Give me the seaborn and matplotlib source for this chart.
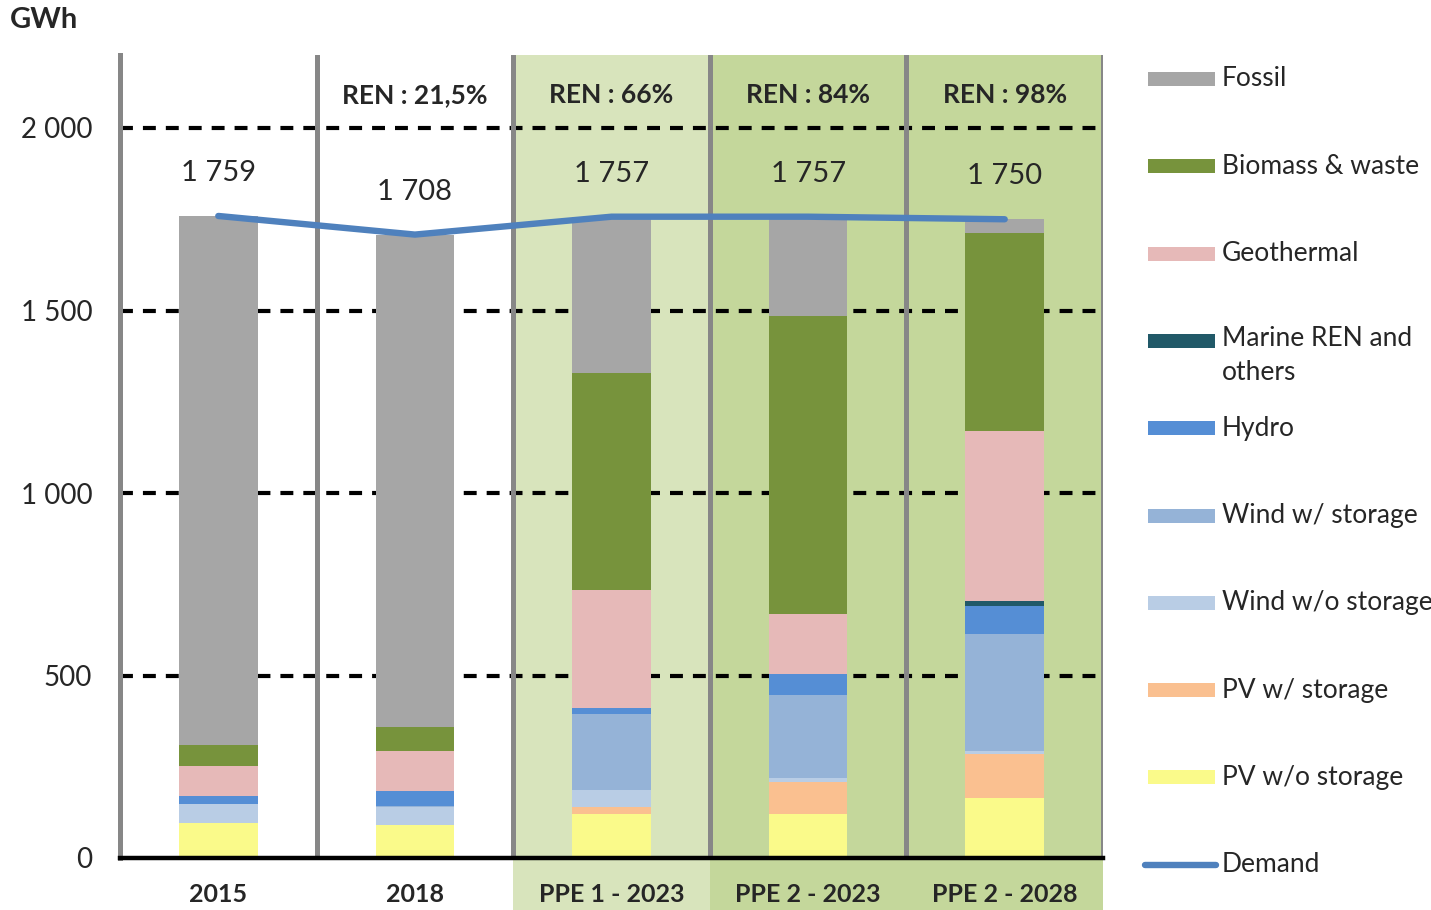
import numpy as np
import matplotlib
matplotlib.use("Agg")
import matplotlib.pyplot as plt
import seaborn as sns
from matplotlib.patches import Rectangle
from matplotlib.lines import Line2D
import matplotlib.transforms as mtransforms

# data (GWh)
categories = ["2015", "2018", "PPE 1 - 2023", "PPE 2 - 2023", "PPE 2 - 2028"]
pv_wo = [96, 90, 121, 121, 164]
pv_w = [0, 0, 19, 87, 121]
wind_wo = [52, 50, 46, 11, 8]
wind_w = [0, 3, 209, 228, 321]
hydro = [22, 41, 16, 57, 76]
marine = [0, 0, 0, 0, 14]
geothermal = [82, 109, 323, 164, 466]
biomass = [58, 66, 595, 817, 542]
fossil = [1449, 1349, 428, 272, 38]
demand = [1759, 1708, 1757, 1757, 1750]
total_labels = ["1 759", "1 708", "1 757", "1 757", "1 750"]
ren_labels = ["", "REN : 21,5%", "REN : 66%", "REN : 84%", "REN : 98%"]

series_names = ["PV w/o storage", "PV w/ storage", "Wind w/o storage", "Wind w/ storage",
                "Hydro", "Marine REN and\nothers", "Geothermal", "Biomass & waste", "Fossil"]
series_vals = [pv_wo, pv_w, wind_wo, wind_w, hydro, marine, geothermal, biomass, fossil]
series_colors = ["#FAFA8A", "#FAC090", "#B9CDE5", "#95B3D7", "#558ED5", "#215968",
                 "#E6B9B8", "#77933C", "#A6A6A6"]

sns.set_style("white")
plt.rcParams["font.family"] = ["Lato", "DejaVu Sans"]

fig = plt.figure(figsize=(14.31, 9.10), dpi=100)
ax = fig.add_axes([120 / 1431, 1 - 858 / 910, 983 / 1431, 803 / 910])

pos = np.arange(len(categories))

# background bands for the PPE scenarios (also below the axis)
band_tr = mtransforms.blended_transform_factory(ax.transData, ax.transAxes)
for lo, hi, col in [(1.5, 2.5, "#D8E4BC"), (2.5, 4.5, "#C4D79B")]:
    ax.add_patch(Rectangle((lo, -0.066), hi - lo, 1.066, transform=band_tr,
                           facecolor=col, edgecolor="none", zorder=0, clip_on=False))

# stacked bars: draw cumulative totals from the top down
cum = np.cumsum(np.array(series_vals), axis=0)
for k in range(len(series_vals) - 1, -1, -1):
    sns.barplot(x=pos, y=cum[k], color=series_colors[k], width=0.4, saturation=1,
                edgecolor="none", linewidth=0, ax=ax, zorder=2, native_scale=True)

# demand line
sns.lineplot(x=pos, y=demand, color="#4F81BD", linewidth=4.6, ax=ax, zorder=4,
             solid_capstyle="round")

ax.set_xlim(-0.5, 4.5)
ax.set_ylim(0, 2200)

# dashed grid
for v in [500, 1000, 1500, 2000]:
    ax.axhline(v, color="black", linewidth=3.0, linestyle=(0, (3.1, 2.4)), zorder=1)

# column separators
for xs in [0.5, 1.5, 2.5, 3.5, 4.5]:
    ax.axvline(xs, color="#878787", linewidth=3.6, zorder=3)

for s in ["top", "right"]:
    ax.spines[s].set_visible(False)
ax.spines["left"].set_color("#878787")
ax.spines["left"].set_linewidth(3.6)
ax.spines["bottom"].set_color("black")
ax.spines["bottom"].set_linewidth(3.2)
ax.spines["bottom"].set_zorder(5)

ax.set_yticks([0, 500, 1000, 1500, 2000])
ax.set_yticklabels(["0", "500", "1 000", "1 500", "2 000"], fontsize=20)
ax.set_xticks(pos)
ax.set_xticklabels(categories, fontsize=18, fontweight="bold")
ax.tick_params(axis="y", length=0, pad=20)
ax.tick_params(axis="x", length=0, pad=18)
ax.set_xlabel("")
ax.set_ylabel("")

# totals and REN shares
for i in pos:
    ax.text(i, demand[i] + 118, total_labels[i], ha="center", va="center", fontsize=21)
    if ren_labels[i]:
        ax.text(i, 2090, ren_labels[i], ha="center", va="center", fontsize=19,
                fontweight="bold")

fig.text(10 / 1431, 1 - 20 / 910, "GWh", ha="left", va="center", fontsize=21,
         fontweight="bold")

# legend, laid out like the original
legend_order = list(range(len(series_names) - 1, -1, -1))
for j, k in enumerate(legend_order):
    yc = 79 + 87.3 * j
    fig.add_artist(Rectangle((1148 / 1431, 1 - (yc + 7) / 910), 67 / 1431, 14 / 910,
                             transform=fig.transFigure, facecolor=series_colors[k],
                             edgecolor="none"))
    if "\n" in series_names[k]:
        fig.text(1222 / 1431, 1 - (yc - 15) / 910, series_names[k], ha="left", va="top",
                 fontsize=19, linespacing=1.45)
    else:
        fig.text(1222 / 1431, 1 - yc / 910, series_names[k], ha="left", va="center",
                 fontsize=19)
yd = 79 + 87.3 * len(series_names)
fig.add_artist(Line2D([1145 / 1431, 1216 / 1431], [1 - yd / 910, 1 - yd / 910],
                      transform=fig.transFigure, color="#4F81BD", linewidth=4.6,
                      solid_capstyle="round"))
fig.text(1222 / 1431, 1 - yd / 910, "Demand", ha="left", va="center", fontsize=19)

fig.savefig("out.png", dpi=100)
